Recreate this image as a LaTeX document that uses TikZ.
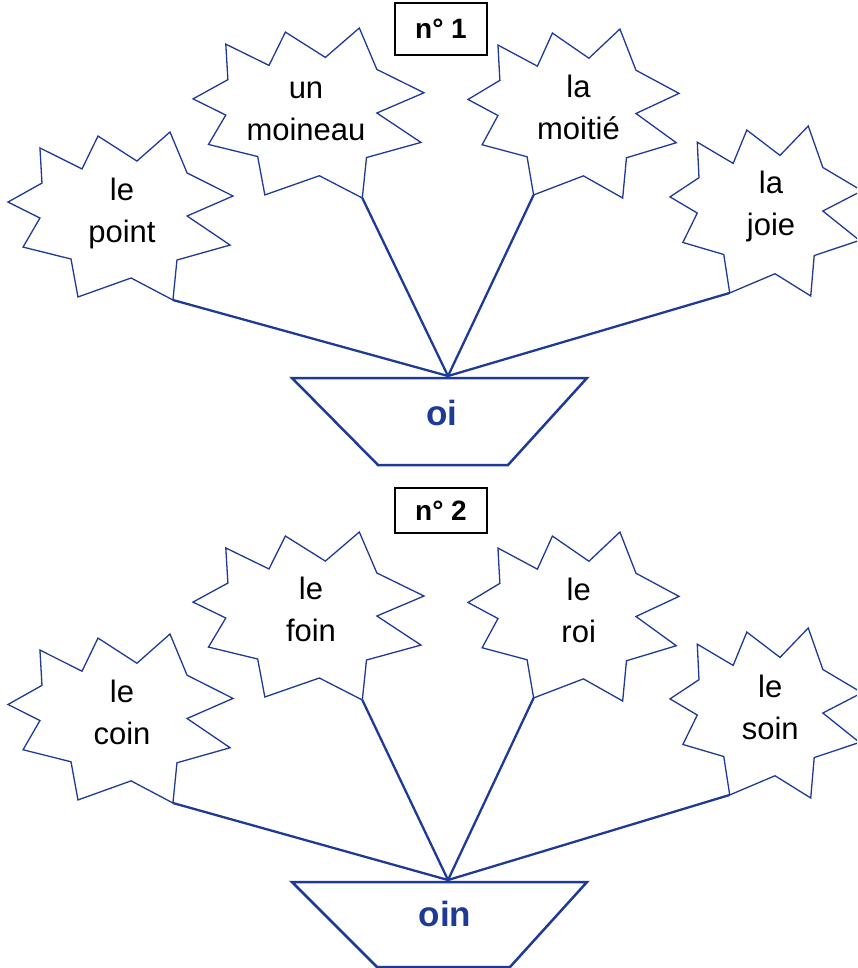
\documentclass[tikz,border=0pt]{standalone}
\usepackage{fontspec}
\setmainfont{Liberation Sans}
\definecolor{navy}{RGB}{30,58,150}
\tikzset{
 burstline/.style={draw=navy, line width=1.3pt, line join=miter},
 linkline/.style={draw=navy, line width=2.3pt},
 basketline/.style={draw=navy, line width=2.5pt, line join=miter},
 wordtext/.style={font=\fontsize{31}{42}\selectfont, align=center, inner sep=0pt},
 soundtext/.style={font=\fontsize{35}{40}\selectfont\bfseries, text=navy, inner sep=0pt, anchor=base},
 numbox/.style={draw=black, line width=1.2pt, font=\fontsize{28}{32}\selectfont\bfseries, minimum width=92pt, inner sep=0pt},
}
\newcommand\drawburst[5]{%
 \begin{scope}[shift={(#2,#3)}, x=#4pt, y=-#5pt]
   \draw[burstline] (0.142,0.095) -- (0.329,0.220) -- (0.400,0.024) -- (0.573,0.173) -- (0.720,0.0) -- (0.796,0.244) -- (1.0,0.381) -- (0.796,0.5) -- (0.987,0.673) -- (0.751,0.762) -- (0.733,1.0) -- (0.547,0.869) -- (0.311,0.982) -- (0.280,0.756) -- (0.067,0.685) -- (0.142,0.512) -- (0.0,0.417) -- (0.151,0.304) -- cycle;
   \coordinate (#1-b) at (0.733,1.0);
   \coordinate (#1-bl) at (0.311,0.982);
 \end{scope}}
\begin{document}
\begin{tikzpicture}[x=1pt,y=-1pt]
\useasboundingbox (0,0) rectangle (857,968);
\clip (0,0) rectangle (857,968);
% ---------- n° 1 ----------
\node[numbox, minimum height=52pt] (n1) at (441,29) {n° 1};
\drawburst{s1}{8}{132}{225}{168}
\drawburst{s2}{193}{28}{231}{170}
\drawburst{s3}{468}{29}{211}{169}
\drawburst{s4}{670}{126}{192}{170}
\node[wordtext] (t1) at (122,212.8) {\strut le\\\strut point};
\node[wordtext] (t2) at (306,111.4) {\strut un\\\strut moineau};
\node[wordtext] (t3) at (578.5,110.4) {\strut la\\\strut moitié};
\node[wordtext] (t4) at (771,206.4) {\strut la\\\strut joie};
\coordinate (apex1) at (448,376);
\draw[basketline] (292,378) -- (587,378) -- (508,465) -- (378,465) -- cycle;
\draw[linkline] (s1-b) -- (apex1);
\draw[linkline] (s2-b) -- (apex1);
\draw[linkline] (s3-bl) -- (apex1);
\draw[linkline] (s4-bl) -- (apex1);
\node[soundtext] (oi) at (442,425) {oi};
% ---------- n° 2 ----------
\node[numbox, minimum height=45pt] (n2) at (441,510.5) {n° 2};
\drawburst{s5}{8}{634}{225}{169}
\drawburst{s6}{193}{532}{231}{168}
\drawburst{s7}{468}{532}{211}{169}
\drawburst{s8}{670}{628}{192}{170}
\node[wordtext] (t5) at (122,715.4) {\strut le\\\strut coin};
\node[wordtext] (t6) at (311,612.4) {\strut le\\\strut foin};
\node[wordtext] (t7) at (578.7,613.4) {\strut le\\\strut roi};
\node[wordtext] (t8) at (770.3,709.9) {\strut le\\\strut soin};
\coordinate (apex2) at (448,880);
\draw[basketline] (292,882) -- (587,882) -- (510,967) -- (377,967) -- cycle;
\draw[linkline] (s5-b) -- (apex2);
\draw[linkline] (s6-b) -- (apex2);
\draw[linkline] (s7-bl) -- (apex2);
\draw[linkline] (s8-bl) -- (apex2);
\node[soundtext] (oin) at (445,926.7) {oin};
\end{tikzpicture}
\end{document}
